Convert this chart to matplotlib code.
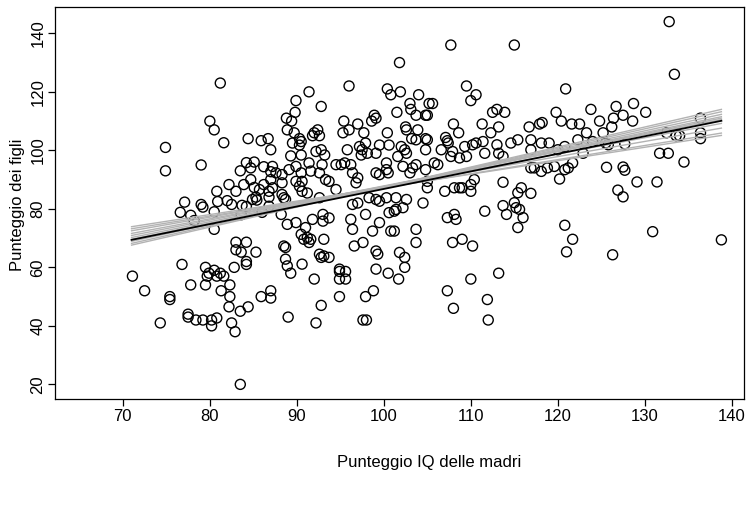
import numpy as np
import matplotlib
matplotlib.use("Agg")
import matplotlib.pyplot as plt

plt.rcParams['font.family'] = ['Liberation Sans', 'DejaVu Sans']

# points: (mom IQ, kid score)
pts = [
    (81.2,123),(80,110),(80.5,107),(74.9,101),(81.6,102.6),(84.4,104),(85.9,103.3),(86.7,104),
    (101.8,130),(96,122),(91.4,120),(100.4,121),(100.8,119),(101.9,120),(104,119),(89.9,117),
    (92.8,115),(89.8,113),(88.8,111),(89.4,110),(103,116),(103.1,114),(103.7,112),(104.8,112),
    (105.2,116),(101.5,113),(98.9,112),(99.1,111),(98.6,110),(95.4,110),(97,109),(96,107),
    (95.3,106),(97.7,106),(88.9,107),(89.7,106),(90.3,104),(90.5,103),(92.4,107),(92,106),
    (91.8,105),(92.6,105),(100.4,106),(102.5,108),(102.6,107),(103.9,107),(103.2,104),(104.8,104),
    (107.7,136),(115,136),(109.5,122),(110.6,119),(110,117),(120.9,121),(105.6,116),(105,112),
    (112.5,113),(113,114),(113.9,113),(119.8,113),(120.4,110),(121.6,109),(122.5,109),(123.3,106),
    (108,109),(108.6,106),(111.3,109),(113.2,108),(112.3,106),(116.7,108),(117.9,109),(118.2,109.5),
    (107.1,104.4),(107.3,103.3),
    (132.8,144),(133.4,126),(123.8,114),(126.7,115),(128.7,116),(130.1,113),(127.5,112),(124.8,110),
    (126.4,111),(128.6,110),(126.2,108),(125.2,106),(136.4,111),(132.5,106),(133.6,105),(134,105),
    (136.4,106),(136.4,104),(124,103),(125.5,102.5),
    (74.9,93),(79,95),(83.5,93),(84.2,95.8),(84.7,94),(85.1,96),(86.2,94.4),(87,92.7),
    (82.2,88.3),(83,86),(83.9,88.3),(84.7,90),(85.1,87.3),(85.7,86.6),(86.2,88.3),(86.8,86),
    (80.8,86),(84.9,83.2),(85.3,84),(85.4,83),(77.1,82.3),(79,81.5),(79.2,80.6),(80.9,82.5),
    (82,82.8),(82.5,81.5),(83.7,81.2),(84.2,80.8),(83.6,78),(76.6,78.8),(77.8,77.8),(78.2,76),
    (80.5,79),(86,78.8),(86.8,84),(80.5,73),(83,68.6),(84.2,68.6),(83,66),(83.6,65.2),
    (85.3,65.2),(84.2,62),
    (76.8,61),(71.1,57),(72.5,52),(75.4,50),(75.4,49),(77.8,54),(79.5,60),(79.9,58),
    (79.7,57),(80.5,59),(80.8,57),(81.2,58),(81.6,57),(79.5,54),(81.3,52),(82.3,54),
    (82.3,50),(82.8,60),(84.2,61),(85.9,50),(87,52),(87,49.5),(82.2,46.5),(83.5,45),
    (84.4,46.5),(77.5,44),(77.5,43),(78.4,42),(79.2,42),(80.2,42),(80.8,42.7),(80.2,40),
    (74.3,41),(82.5,41),(82.9,38),(83.5,20),
    (87,100.2),(89.5,102.5),(90.3,101.8),(90.5,98.4),(89.3,98.1),(92.2,99.6),(92.8,100.2),(93.2,98.4),
    (95.8,100.2),(97.2,101.3),(97.5,100.2),(97.9,102.5),(97.4,98.4),(98.1,99),(99.1,99),(99.5,101.8),
    (100.6,101.8),(102,101.3),(102.4,100.2),(102.6,99),(101.6,97.9),(103.7,103.6),(104.8,100.2),
    (87.2,94.5),(87.6,92.3),(88.3,91.7),(89.1,93.4),(89.9,94.5),(90.5,92.3),(91.4,95.7),(91.6,92.9),
    (92.6,92.3),(92.9,95.1),(93.3,90),(93.7,89.4),(94.5,95.1),(95.1,95.1),(95.5,95.7),(96.2,95.1),
    (96.4,92.3),(97,90.6),(96.8,88.9),(99.1,92.3),(99.5,91.7),(100.3,95.7),(100.3,93.4),(100.5,92.3),
    (102.2,94.5),(103,92.3),(103.3,94),(103.7,95.1),(104.8,93.4),(105,89.4),(87,90),(88.3,88.9),
    (89.9,89.4),(90.6,89.4),
    (87.2,87.2),(88.3,84.9),(88.5,83.8),(88.7,83.2),(90.3,87.7),(90.6,86),(91.2,85.4),(94.5,86.6),
    (96.4,81.5),(97,82),(98.3,83.8),(99.1,83.2),(99.5,82.6),(100.3,83.8),(101.4,83.8),(102.6,83.2),
    (104.5,82),(105,87.2),(92.6,83.8),
    (86.8,80.9),(88.2,78.1),(88.9,74.7),(89.9,75.3),(91.8,76.4),(93,78.1),(93,75.8),(93.7,76.9),
    (91,73.6),(96.2,76.4),(97.9,78.1),(99.5,75.3),(100.6,78.7),(101.2,79.2),(101.4,79.8),(96.4,73),
    (98.7,72.4),(100.8,72.4),(101.2,72.4),(103.7,73),(102.2,80.4),
    (90.5,71.3),(90.8,69.6),(91.2,70.2),(91.6,69.6),(91.4,68.5),(93.1,69.6),(88.5,67.3),(88.7,66.8),
    (96.6,67.3),(97.6,68.5),(99.1,65.6),(99.3,64.5),(101.8,65.1),(102.4,63.4),(103.7,68.5),(92.6,64.5),
    (93.1,63.9),(93.7,63.4),(92.8,63.4),(88.7,62.8),(90.6,61.1),(88.9,60.5),(94.9,59.4),(99.1,59.4),
    (105,103.6),(106.6,100.2),(107.4,102.5),(107.9,99.6),(107.7,97.9),(108.7,97.4),(109.3,101.3),(109.5,97.9),
    (110.2,101.9),(110.6,102.5),(111.6,99),(111.4,103),(113,101.9),(113.2,99),(113.7,97.9),(114.6,102.5),
    (115.4,103.6),(116.9,103.6),(116.9,100.2),(118.1,102.5),(119,102.5),(120,100.2),(120.8,101.3),(122.3,103.6),
    (105.8,95.7),(106.2,95.1),
    (107,86),(108.1,87.2),(108.7,87.2),(109,87.2),(110,86),(110,88.3),(110.4,90),(113.7,89.1),
    (115.8,87.2),(115.4,85.5),(116.9,85.3),(116.9,94),(118.1,92.8),(118.8,94),(119.6,94.5),(120.8,93.4),
    (121.2,94),(120.2,90.2),(117.3,94),(121.7,95.7),
    (107.3,77),(108.1,78.1),(108.3,76.4),(111.6,79.2),(113.7,81.1),(114.1,78.1),(115,82.1),(115.2,80.4),
    (115.6,79.8),(116,77),(115.4,73.6),(120.8,74.4),(121.7,69.6),(121,65.3),(107.9,68.5),(109,69.6),
    (110.2,67.3),
    (131.7,99),(132.7,99),(134.5,96),(125.6,94.2),(127.5,94.3),(127.7,93.2),(129.1,89.2),(131.4,89.2),
    (126.9,86.4),(127.5,84.1),(130.9,72.2),(138.8,69.4),(126.3,64.3),(122.9,99),(125.8,101.9),(127.7,102.2),
    (89.3,58),(92,56),(94.9,58.6),(95.6,58.6),(94.9,56),(95.6,56),(100.5,58),(101.7,56),
    (102.4,60),(92.8,47),(94.9,50),(97.9,50),(98.8,52),(89,43),(92.2,41),(97.6,42),
    (98,42),
    (110,56),(113.2,58),(107.3,52),(111.9,49),(108,46),(112,42),
]
mom_iq = np.array([p[0] for p in pts])
kid_score = np.array([p[1] for p in pts])

# fitted line and simulated lines, read at x = 71 and x = 138.8
x_ends = [71, 138.8]
fit_ends = [69.4, 110.1]
sim_left = [73.9, 73.2, 72.5, 71.6, 70.9, 70.2, 69.6, 68.9, 68.2, 67.6]
sim_right = [105.1, 105.9, 107.6, 109.2, 110.5, 111.0, 111.5, 112.3, 113.2, 114.0]

W, H = 751, 505
fig = plt.figure(figsize=(W / 100, H / 100), dpi=100)
ax = fig.add_axes([55 / W, (H - 399) / H, (744 - 55) / W, (399 - 7) / H])

ax.scatter(mom_iq, kid_score, s=52, facecolors='none', edgecolors='black', linewidths=1.0, zorder=2)
for a, b in zip(sim_left, sim_right):
    ax.plot(x_ends, [a, b], color='#b3b3b3', lw=1.0, zorder=3)
ax.plot(x_ends, fit_ends, color='black', lw=1.3, zorder=4)

ax.set_xlim(62.2, 141.4)
ax.set_ylim(15.0, 149.0)
ax.set_xticks(range(70, 141, 10))
ax.set_yticks(range(20, 141, 20))
ax.tick_params(direction='out', length=5, width=0.9, labelsize=12, pad=2)
for lab in ax.get_yticklabels():
    lab.set_rotation(90)
    lab.set_va('center')
for s in ax.spines.values():
    s.set_linewidth(0.9)

fig.text(429 / W, 1 - 463 / H, 'Punteggio IQ delle madri', ha='center', va='center', fontsize=12)
fig.text(18 / W, 1 - 205 / H, 'Punteggio dei figli', ha='center', va='center', rotation=90, fontsize=12)

fig.savefig('out.png', dpi=100)
